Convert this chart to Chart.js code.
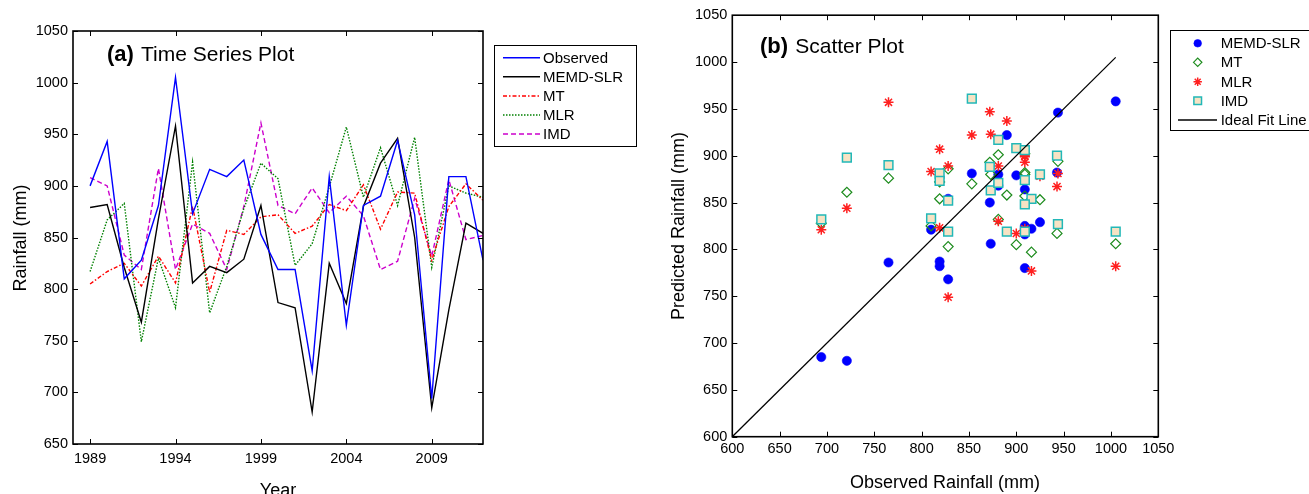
<!DOCTYPE html>
<html><head><meta charset="utf-8">
<script src="https://cdn.jsdelivr.net/npm/chart.js@4.4.1/dist/chart.umd.min.js"></script>
<style>
html,body{margin:0;padding:0;background:#fff;width:1309px;height:494px;overflow:hidden}
#wa{position:absolute;left:0;top:0;width:650px;height:494px}
#wb{position:absolute;left:650px;top:0;width:659px;height:494px}
</style></head><body>
<div id="wa"><canvas id="ca"></canvas></div>
<div id="wb"><canvas id="cb"></canvas></div>
<script>
// ---------- data ----------
const years = [1989,1990,1991,1992,1993,1994,1995,1996,1997,1998,1999,2000,2001,2002,2003,2004,2005,2006,2007,2008,2009,2010,2011,2012];
const observed = [900,943,810,828,881,1005,873,916,909,925,853,819,819,721,909,765,881,890,944,872,694,909,909,828];
const memdSlr  = [879,882,821,768,868,958,806,822,816,829,881,787,782,681,825,786,880,922,946,850,685,780,864,854];
const mt       = [805,817,825,803,832,806,880,797,857,853,870,872,854,861,882,876,901,858,894,893,828,880,902,886];
const mlr      = [817,867,883,749,830,782,923,777,822,878,922,907,823,844,899,957,889,937,881,947,821,900,893,889];
const imd      = [908,900,833,819,917,819,863,854,819,880,961,881,873,898,874,890,871,819,827,888,832,906,848,852];
const yearTicks = [1989,1994,1999,2004,2009];
const idealFit = [600,1005];
const tsLegend = ['Observed','MEMD-SLR','MT','MLR','IMD'];
const scLegend = ['MEMD-SLR','MT','MLR','IMD','Ideal Fit Line'];

const FONT = '"Liberation Sans", Arial, Helvetica, sans-serif';
Chart.defaults.font.family = FONT;
Chart.defaults.font.size = 14.5;
Chart.defaults.color = '#000';

function boxPlugin(id, draw) {
  return {
    id: id,
    afterDraw(chart) {
      const {ctx, chartArea: a, scales: {x, y}} = chart;
      ctx.save();
      ctx.strokeStyle = '#000';
      ctx.lineWidth = 1;
      const L = 5;
      ctx.beginPath();
      x.ticks.forEach(t => {
        const px = Math.round(x.getPixelForValue(t.value)) + 0.5;
        ctx.moveTo(px, a.bottom); ctx.lineTo(px, a.bottom - L);
        ctx.moveTo(px, a.top); ctx.lineTo(px, a.top + L);
      });
      y.ticks.forEach(t => {
        const py = Math.round(y.getPixelForValue(t.value)) + 0.5;
        ctx.moveTo(a.left, py); ctx.lineTo(a.left + L, py);
        ctx.moveTo(a.right, py); ctx.lineTo(a.right - L, py);
      });
      ctx.stroke();
      ctx.lineWidth = 1.6;
      ctx.strokeRect(a.left, a.top, a.right - a.left, a.bottom - a.top);
      draw(ctx, chart);
      ctx.restore();
    }
  };
}

function panelTitle(ctx, x, y, bold, rest) {
  ctx.fillStyle = '#000';
  ctx.textAlign = 'left';
  ctx.textBaseline = 'alphabetic';
  ctx.font = 'bold 22px ' + FONT;
  ctx.fillText(bold, x, y);
  const w = ctx.measureText(bold + ' ').width;
  ctx.font = '21px ' + FONT;
  ctx.fillText(rest, x + w + 1, y);
}

// ---------- time series ----------
const tsStyles = [
  {color:'#0000FF', dash:[]},
  {color:'#000000', dash:[]},
  {color:'#FF0000', dash:[4,2,1.5,2]},
  {color:'#008000', dash:[1.5,1.5]},
  {color:'#CC00CC', dash:[5,3]}
];
const tsData = [observed, memdSlr, mt, mlr, imd];

new Chart(document.getElementById('ca'), {
  type: 'line',
  data: {
    datasets: tsData.map((arr, i) => ({
      label: tsLegend[i],
      data: years.map((yr, j) => ({x: yr, y: arr[j]})),
      borderColor: tsStyles[i].color,
      borderDash: tsStyles[i].dash,
      borderWidth: 1.4,
      pointRadius: 0,
      tension: 0,
      fill: false,
      order: i
    }))
  },
  options: {
    responsive: true, maintainAspectRatio: false, animation: false, devicePixelRatio: 1,
    layout: {padding: {left: 0, top: 31, right: 167, bottom: 0}},
    plugins: {legend: {display: false}, tooltip: {enabled: false}},
    scales: {
      x: {
        type: 'linear', min: 1988, max: 2012,
        grid: {display: false, drawTicks: false}, border: {display: false},
        afterBuildTicks: s => { s.ticks = yearTicks.map(v => ({value: v})); },
        ticks: {autoSkip: false, maxRotation: 0, padding: 6, callback: v => String(v)},
        afterFit: s => { s.height = 50; }
      },
      y: {
        min: 650, max: 1050,
        grid: {display: false, drawTicks: false}, border: {display: false},
        ticks: {stepSize: 50, padding: 5, callback: v => String(v)},
        afterFit: s => { s.width = 73; }
      }
    }
  },
  plugins: [boxPlugin('boxA', (ctx, chart) => {
    panelTitle(ctx, 107, 61, '(a)', 'Time Series Plot');
    ctx.font = '18px ' + FONT;
    ctx.textAlign = 'center';
    ctx.textBaseline = 'alphabetic';
    ctx.fillText('Year', 278, 496);
    ctx.save();
    ctx.translate(26, 238);
    ctx.rotate(-Math.PI / 2);
    ctx.textBaseline = 'alphabetic';
    ctx.fillText('Rainfall (mm)', 0, 0);
    ctx.restore();
    // legend
    ctx.lineWidth = 1;
    ctx.strokeStyle = '#000';
    ctx.setLineDash([]);
    ctx.strokeRect(494.5, 45.5, 142, 101);
    const ys = [57.7, 76.7, 96, 115, 134];
    ctx.font = '15px ' + FONT;
    ctx.textAlign = 'left';
    ctx.textBaseline = 'middle';
    tsLegend.forEach((lab, i) => {
      ctx.strokeStyle = tsStyles[i].color;
      ctx.lineWidth = 1.4;
      ctx.setLineDash(tsStyles[i].dash);
      ctx.beginPath(); ctx.moveTo(503, ys[i]); ctx.lineTo(540, ys[i]); ctx.stroke();
      ctx.setLineDash([]);
      ctx.fillStyle = '#000';
      ctx.fillText(lab, 543, ys[i] + 1);
    });
  })]
});

// ---------- scatter ----------
const scStyles = [
  {pointStyle:'circle', radius:4.6, bg:'#0000FF', border:'#0000FF', bw:0.6},
  {pointStyle:'rectRot', radius:5, bg:'rgba(0,0,0,0)', border:'#1E8C1E', bw:1.2},
  {pointStyle:'star', radius:5, bg:'#FF2020', border:'#FF2020', bw:1.5},
  {pointStyle:'rect', radius:6.2, bg:'#F7E3C4', border:'#22B8B8', bw:1.5}
];
const scData = [memdSlr, mt, mlr, imd];

const scDatasets = scData.map((arr, i) => ({
  label: scLegend[i],
  type: 'scatter',
  data: observed.map((o, j) => ({x: o, y: arr[j]})),
  pointStyle: scStyles[i].pointStyle,
  pointRadius: scStyles[i].radius,
  pointBackgroundColor: scStyles[i].bg,
  pointBorderColor: scStyles[i].border,
  pointBorderWidth: scStyles[i].bw,
  showLine: false,
  order: 4 - i
}));
scDatasets.push({
  label: scLegend[4],
  type: 'line',
  data: idealFit.map(v => ({x: v, y: v})),
  borderColor: '#000', borderWidth: 1.3, pointRadius: 0, showLine: true, fill: false,
  order: 0
});

new Chart(document.getElementById('cb'), {
  type: 'scatter',
  data: {datasets: scDatasets},
  options: {
    responsive: true, maintainAspectRatio: false, animation: false, devicePixelRatio: 1,
    layout: {padding: {left: 0, top: 15.2, right: 150.7, bottom: 0}},
    plugins: {legend: {display: false}, tooltip: {enabled: false}},
    scales: {
      x: {
        type: 'linear', min: 600, max: 1050,
        grid: {display: false, drawTicks: false}, border: {display: false},
        ticks: {stepSize: 50, autoSkip: false, maxRotation: 0, padding: 4, callback: v => String(v)},
        afterFit: s => { s.height = 57.3; }
      },
      y: {
        min: 600, max: 1050,
        grid: {display: false, drawTicks: false}, border: {display: false},
        ticks: {stepSize: 50, padding: 5, callback: v => String(v)},
        afterFit: s => { s.width = 82.3; }
      }
    }
  },
  plugins: [boxPlugin('boxB', (ctx, chart) => {
    panelTitle(ctx, 110, 53, '(b)', 'Scatter Plot');
    ctx.font = '18px ' + FONT;
    ctx.fillStyle = '#000';
    ctx.textAlign = 'center';
    ctx.textBaseline = 'middle';
    ctx.fillText('Observed Rainfall (mm)', 295, 483);
    ctx.save();
    ctx.translate(29, 226);
    ctx.rotate(-Math.PI / 2);
    ctx.fillText('Predicted Rainfall (mm)', 0, 0);
    ctx.restore();
    // legend
    ctx.lineWidth = 1;
    ctx.strokeStyle = '#000';
    ctx.strokeRect(520.5, 30.5, 150, 100);
    const ys = [43.3, 62.3, 81.7, 100.7, 120];
    ctx.font = '15px ' + FONT;
    ctx.textAlign = 'left';
    ctx.textBaseline = 'middle';
    scStyles.forEach((s, i) => {
      ctx.fillStyle = s.bg;
      ctx.strokeStyle = s.border;
      ctx.lineWidth = s.bw;
      Chart.helpers.drawPoint(ctx, {pointStyle: s.pointStyle, radius: i === 0 ? 3.8 : (i === 3 ? 5.4 : 4.2), rotation: 0, borderWidth: s.bw}, 547.7, ys[i]);
    });
    ctx.strokeStyle = '#000';
    ctx.lineWidth = 1.3;
    ctx.beginPath(); ctx.moveTo(528, ys[4]); ctx.lineTo(567, ys[4]); ctx.stroke();
    ctx.fillStyle = '#000';
    scLegend.forEach((lab, i) => ctx.fillText(lab, 570.7, ys[i] + 1));
  })]
});
</script>
</body></html>
